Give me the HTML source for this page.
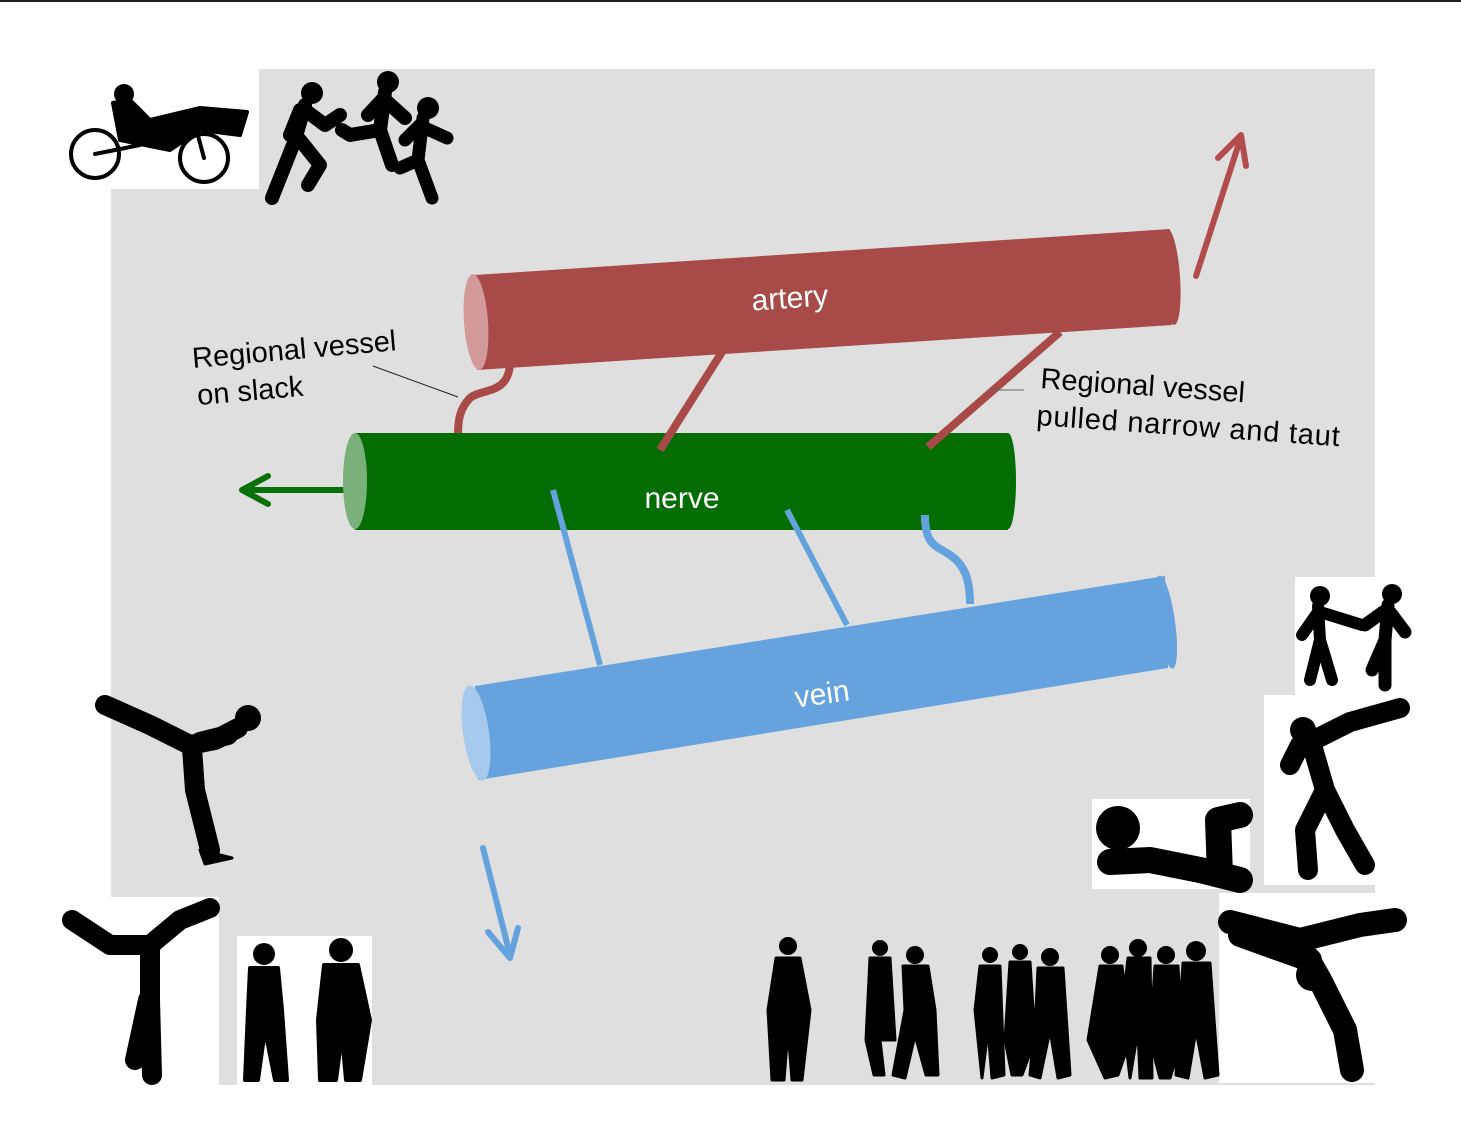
<!DOCTYPE html>
<html><head><meta charset="utf-8"><style>
html,body{margin:0;padding:0;background:#fff;width:1461px;height:1148px;overflow:hidden}
svg{display:block}
text{font-family:"Liberation Sans",sans-serif}
</style></head><body>
<svg width="1461" height="1148" viewBox="0 0 1461 1148" xmlns="http://www.w3.org/2000/svg">
<rect x="0" y="0" width="1461" height="2" fill="#222"/>
<path d="M259,69 H1375 V1085 H111 V189 H259 Z" fill="#dfdfdf"/>
<rect x="110" y="69" width="149" height="120" fill="#fff"/>
<rect x="1295" y="577" width="166" height="118" fill="#fff"/>
<rect x="1264" y="695" width="197" height="190" fill="#fff"/>
<rect x="1092" y="799" width="158" height="90" fill="#fff"/>
<rect x="1219" y="893" width="242" height="190" fill="#fff"/>
<rect x="0" y="897" width="219" height="251" fill="#fff"/>
<rect x="237" y="936" width="135" height="150" fill="#fff"/>
<rect x="0" y="1085" width="1461" height="63" fill="#fff"/>

<g fill="#000" stroke="#000" stroke-linecap="round" stroke-linejoin="round">
 <!-- cyclist -->
 <circle cx="95" cy="154" r="24" fill="none" stroke-width="4"/>
 <circle cx="204" cy="158" r="24" fill="none" stroke-width="4"/>
 <circle cx="124" cy="94" r="10" stroke="none"/>
 <path d="M113,103 L120,140 L170,150 L200,130 L240,135 L247,112 L200,108 L150,120 L130,100 Z" stroke-width="4"/>
 <path d="M95,154 L140,145 M204,158 L196,128" stroke-width="4" fill="none"/>
 <!-- runners -->
 <circle cx="312" cy="93" r="11" stroke="none"/>
 <path d="M305,105 L295,140 L272,198 M300,140 L320,165 L308,185 M305,110 L325,125 L340,115 M300,110 L290,135" stroke-width="14" fill="none"/>
 <circle cx="388" cy="82" r="11" stroke="none"/>
 <path d="M385,92 L380,130 L392,165 M380,130 L350,135 L342,130 M385,100 L405,118 M382,100 L368,115" stroke-width="14" fill="none"/>
 <circle cx="428" cy="108" r="11" stroke="none"/>
 <path d="M423,118 L418,160 L432,198 M418,160 L400,168 M425,128 L447,138 M420,125 L405,140" stroke-width="13" fill="none"/>
 <!-- skater -->
 <circle cx="248" cy="718" r="13" stroke="none"/>
 <path d="M105,705 L150,725 L190,745 L215,740 L238,728 M192,748 L195,790 L210,850 M200,742 L228,735" stroke-width="20" fill="none"/>
 <path d="M200,850 L232,858 L205,864 Z" stroke-width="3"/>
 <!-- cartwheel -->
 <path d="M72,920 L110,945 L150,945 L180,920 L210,908 M150,945 L150,1000 L152,1075 M148,1000 L135,1060" stroke-width="20" fill="none"/>
 <!-- two kids -->
 <circle cx="264" cy="954" r="11" stroke="none"/>
 <path d="M250,968 H278 L282,1010 L287,1080 L275,1080 L265,1030 L258,1080 L245,1080 L248,1010 Z" stroke-width="4"/>
 <circle cx="341" cy="950" r="12" stroke="none"/>
 <path d="M324,965 H358 L370,1020 L360,1080 L346,1080 L342,1035 L336,1080 L320,1080 L318,1020 Z" stroke-width="4"/>
 <!-- holding hands -->
 <circle cx="1320" cy="596" r="10" stroke="none"/>
 <path d="M1318,606 L1320,640 L1310,680 M1320,640 L1332,680 M1318,612 L1302,635 M1320,612 L1362,625" stroke-width="12" fill="none"/>
 <circle cx="1392" cy="594" r="10" stroke="none"/>
 <path d="M1388,605 L1385,640 L1372,670 M1385,640 L1385,685 M1390,612 L1405,632 M1383,612 L1365,625" stroke-width="13" fill="none"/>
 <!-- dancer -->
 <circle cx="1303" cy="730" r="13" stroke="none"/>
 <path d="M1310,742 L1350,722 L1400,708 M1312,745 L1325,790 L1305,830 L1308,870 M1325,790 L1345,830 L1365,865 M1300,745 L1290,765" stroke-width="20" fill="none"/>
 <!-- lying girl -->
 <circle cx="1118" cy="828" r="22" stroke="none"/>
 <path d="M1110,862 L1150,860 L1200,870 L1240,880 M1220,875 L1218,820 L1240,815" stroke-width="26" fill="none"/>
 <!-- breakdancer -->
 <path d="M1230,922 L1300,940 L1360,925 L1395,920 M1300,945 L1320,980 L1345,1030 L1352,1070 M1240,935 L1310,960" stroke-width="24" fill="none"/>
 <circle cx="1312" cy="975" r="16" stroke="none"/>
 <!-- crowd -->
 <g stroke-width="3">
  <circle cx="788" cy="946" r="9" stroke="none"/><path d="M776,958 H800 L810,1010 L802,1080 L792,1080 L788,1030 L784,1080 L772,1080 L768,1010 Z"/>
  <circle cx="880" cy="948" r="8" stroke="none"/><path d="M870,958 H890 L895,1040 L880,1040 L884,1075 L874,1075 L866,1040 Z"/>
  <circle cx="915" cy="955" r="9" stroke="none"/><path d="M903,966 H928 L935,1010 L938,1075 L926,1075 L915,1035 L905,1078 L893,1075 L905,1010 Z"/>
  <circle cx="990" cy="955" r="8" stroke="none"/><path d="M980,966 H1000 L1004,1075 L992,1078 L988,1030 L982,1078 L975,1010 Z"/>
  <circle cx="1020" cy="952" r="8" stroke="none"/><path d="M1010,962 H1030 L1035,1040 L1022,1075 L1012,1075 L1005,1040 Z"/>
  <circle cx="1050" cy="957" r="9" stroke="none"/><path d="M1038,968 H1063 L1070,1075 L1058,1078 L1050,1030 L1040,1078 L1030,1075 L1036,1010 Z"/>
  <circle cx="1110" cy="955" r="9" stroke="none"/><path d="M1100,966 H1122 L1130,1040 L1118,1075 L1105,1078 L1088,1040 Z"/>
  <circle cx="1138" cy="948" r="9" stroke="none"/><path d="M1128,958 H1150 L1152,1078 L1140,1078 L1138,1030 L1130,1078 L1122,1010 Z"/>
  <circle cx="1166" cy="955" r="9" stroke="none"/><path d="M1155,966 H1178 L1182,1040 L1170,1078 L1160,1078 L1150,1040 Z"/>
  <circle cx="1196" cy="951" r="10" stroke="none"/><path d="M1183,963 H1210 L1218,1075 L1205,1078 L1196,1030 L1188,1078 L1176,1075 L1180,1010 Z"/>
 </g>
</g>

<g stroke-linecap="round" stroke-linejoin="round" fill="none">
 <path d="M343,490 H245 M268,476 L242,490 L268,504" stroke="#087008" stroke-width="6"/>
 <path d="M1196,276 L1240,140 M1218,158 L1241,135 L1246,166" stroke="#b24c4c" stroke-width="6"/>
 <path d="M483,848 L510,955 M488,932 L510,958 L518,928" stroke="#64a2de" stroke-width="6"/>
</g>

<!-- slack connector -->
<path d="M510,364 C508,395 482,388 470,398 C460,408 458,420 458,434" fill="none" stroke="#a84a47" stroke-width="8"/>
<!-- artery -->
<polygon points="475,275 1170,229 1172,325 477,370" fill="#a84a47"/>
<ellipse cx="1171" cy="277" rx="9" ry="48" fill="#a84a47" transform="rotate(-4 1171 277)"/>
<ellipse cx="476" cy="322" rx="12" ry="48" fill="#d4999a" transform="rotate(-4 476 322)"/>
<text x="790" y="308" fill="#fff" font-size="30" text-anchor="middle" transform="rotate(-4 790 300)">artery</text>

<!-- nerve -->
<rect x="355" y="433" width="653" height="97" fill="#046e04"/>
<ellipse cx="1008" cy="481" rx="8" ry="48" fill="#046e04"/>
<ellipse cx="355" cy="481" rx="12" ry="48" fill="#7ab07a"/>
<text x="682" y="508" fill="#fff" font-size="30" text-anchor="middle">nerve</text>

<!-- connectors on top of nerve -->
<g fill="none" stroke="#a84a47" stroke-width="8">
 <path d="M722,352 L660,450"/>
 <path d="M1060,332 L928,447"/>
</g>
<g fill="none" stroke="#64a2de" stroke-width="6">
 <path d="M553,490 L600,665"/>
 <path d="M787,510 L847,625"/>
 <path d="M925,515 C925,545 935,545 950,555 C965,565 970,580 970,604" stroke-width="8"/>
</g>
<!-- vein -->
<polygon points="475,686 1165,576 1168,668 478,780" fill="#66a3de"/>
<ellipse cx="1166" cy="622" rx="9" ry="47" fill="#66a3de" transform="rotate(-8 1166 622)"/>
<ellipse cx="476" cy="733" rx="13" ry="48" fill="#a8c9ee" transform="rotate(-8 476 733)"/>
<text x="822" y="704" fill="#fff" font-size="30" text-anchor="middle" transform="rotate(-8 822 694)">vein</text>

<line x1="373" y1="366" x2="458" y2="397" stroke="#222" stroke-width="1"/>
<text x="193" y="368" font-size="29" fill="#000" transform="rotate(-5 193 368)">Regional vessel</text>
<text x="198" y="405" font-size="29" fill="#000" transform="rotate(-5 198 405)">on slack</text>
<line x1="990" y1="390" x2="1024" y2="390" stroke="#666" stroke-width="1"/>
<text x="1040" y="388" font-size="29" fill="#000" transform="rotate(4 1040 388)">Regional vessel</text>
<text x="1036" y="425" font-size="29" letter-spacing="0.8" fill="#000" transform="rotate(4 1036 425)">pulled narrow and taut</text>
</svg>
</body></html>
